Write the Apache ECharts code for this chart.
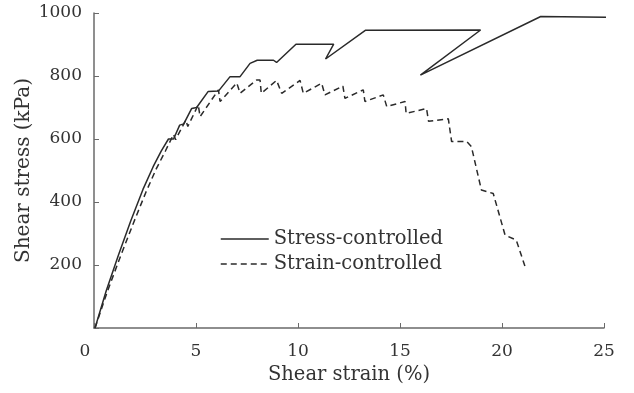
<!DOCTYPE html>
<html>
<head>
<meta charset="utf-8">
<script src="https://cdn.jsdelivr.net/npm/echarts@6/dist/echarts.min.js"></script>
<style>html,body{margin:0;padding:0;background:#fff;}#c{width:634px;height:393px;}</style>
</head>
<body>
<div id="c"></div>
<script>
const seriesNames = ['Stress-controlled', 'Strain-controlled'];
const xTicks = [0, 5, 10, 15, 20, 25];
const yTicks = [200, 400, 600, 800, 1000];
const stressControlled = [
  [0.05, 0], [0.6, 118], [1.2, 232], [1.8, 340], [2.4, 440], [2.9, 512], [3.3, 562], [3.65, 600],
  [3.9, 600], [4.2, 644], [4.4, 648], [4.79, 697], [5.03, 700], [5.6, 751], [6.1, 752],
  [6.67, 798], [7.16, 798], [7.65, 840], [8.0, 850], [8.8, 850], [8.95, 843], [9.9, 901],
  [11.75, 901], [11.35, 854], [13.3, 945], [18.95, 946], [16.0, 803], [21.9, 989], [25.3, 986]
];
const strainControlled = [
  [0.05, 0], [0.65, 115], [1.3, 228], [1.95, 336], [2.55, 432], [3.05, 505], [3.5, 562], [3.9, 615],
  [4.0, 598], [4.5, 660], [4.6, 640], [5.11, 708], [5.2, 671], [6.1, 756], [6.18, 719],
  [7.0, 778], [7.16, 745], [7.97, 787], [8.14, 787], [8.2, 745], [8.95, 786], [9.2, 745],
  [10.1, 786], [10.26, 745], [11.16, 777], [11.32, 740], [12.2, 768], [12.3, 729],
  [13.2, 756], [13.28, 719], [14.18, 740], [14.35, 703], [15.25, 719], [15.3, 681],
  [16.3, 697], [16.4, 656], [17.37, 664], [17.53, 592], [18.27, 592], [18.5, 576],
  [18.99, 438], [19.57, 427], [20.15, 295], [20.7, 279], [21.13, 195]
];

const FONT = 'DejaVu Serif';
const axisColor = '#6a6a6a';
const textColor = '#333';
const lineColor = '#2a2a2a';
const chart = echarts.init(document.getElementById('c'));
chart.setOption({
  animation: false,
  backgroundColor: '#fff',
  grid: { left: 94, right: 30, top: 13, bottom: 65 },
  legend: {
    orient: 'vertical',
    left: 215,
    top: 224,
    itemWidth: 48,
    itemHeight: 12,
    itemGap: 5,
    itemStyle: { opacity: 0 },
    lineStyle: { width: 1.5 },
    textStyle: { fontFamily: FONT, fontSize: 19.5, color: textColor },
    data: seriesNames
  },
  xAxis: {
    type: 'value', min: 0, max: 25, interval: 5,
    name: 'Shear strain (%)', nameLocation: 'middle', nameGap: 37, nameMoveOverlap: false,
    nameTextStyle: { fontFamily: FONT, fontSize: 19.5, color: textColor },
    axisLine: { lineStyle: { color: axisColor, width: 1.5 } },
    axisTick: { inside: true, length: 5, lineStyle: { color: axisColor } },
    splitLine: { show: false },
    axisLabel: {
      margin: 15, fontFamily: FONT, fontSize: 17, color: textColor,
      formatter: function (v) { return v === 0 ? '{z|0}' : String(v); },
      rich: { z: { fontFamily: FONT, fontSize: 17, color: textColor, padding: [0, 18, 0, 0] } }
    }
  },
  yAxis: {
    type: 'value', min: 0, max: 1000, interval: 200,
    name: 'Shear stress (kPa)', nameLocation: 'middle', nameGap: 60, nameMoveOverlap: false,
    nameTextStyle: { fontFamily: FONT, fontSize: 20, color: textColor },
    axisLine: { show: true, lineStyle: { color: axisColor, width: 1.5 } },
    axisTick: { show: true, inside: true, length: 5, lineStyle: { color: axisColor } },
    splitLine: { show: false },
    axisLabel: {
      margin: 12, fontFamily: FONT, fontSize: 17, color: textColor,
      formatter: function (v) { return yTicks.indexOf(v) >= 0 ? String(v) : ''; }
    }
  },
  series: [
    {
      name: seriesNames[0], type: 'line', data: stressControlled, symbol: 'none', clip: false,
      lineStyle: { color: lineColor, width: 1.5, type: 'solid' },
      itemStyle: { color: lineColor }
    },
    {
      name: seriesNames[1], type: 'line', data: strainControlled, symbol: 'none', clip: false,
      lineStyle: { color: lineColor, width: 1.5, type: [6, 4] },
      itemStyle: { color: lineColor }
    }
  ]
});
</script>
</body>
</html>
